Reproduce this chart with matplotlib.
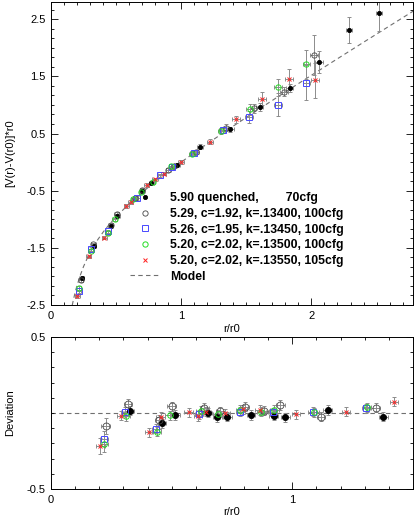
import numpy as np
import matplotlib.pyplot as plt
from matplotlib.lines import Line2D
from matplotlib.legend_handler import HandlerLine2D
from matplotlib.ticker import MultipleLocator, FixedLocator

plt.rcParams['font.family'] = ['Liberation Sans', 'DejaVu Sans']
plt.rcParams['font.size'] = 8
plt.rcParams['axes.unicode_minus'] = False

# ---- top panel: potential data ----
r_q = [0.235, 0.327, 0.458, 0.510, 0.700, 0.769, 0.967, 1.146, 1.377, 1.602, 1.833, 2.056, 2.287, 2.518]
v_q = [-2.03, -1.47, -1.11, -0.94, -0.50, -0.36, -0.05, 0.27, 0.57, 0.97, 1.29, 1.75, 2.31, 2.60]
ev_q = [0.03, 0.03, 0.03, 0.03, 0.03, 0.03, 0.03, 0.04, 0.05, 0.07, 0.07, 0.20, 0.23, 0.30]
er_q = [0.02, 0.02, 0.02, 0.02, 0.02, 0.02, 0.02, 0.025, 0.025, 0.025, 0.025, 0.03, 0.025, 0.025]

r_a = [0.228, 0.325, 0.458, 0.505, 0.646, 0.702, 0.902, 0.946, 1.115, 1.344, 1.556, 1.787, 2.018]
v_a = [-2.06, -1.44, -1.10, -0.91, -0.635, -0.49, -0.14, -0.07, 0.18, 0.60, 0.94, 1.23, 1.87]
ev_a = [0.03, 0.03, 0.03, 0.03, 0.03, 0.03, 0.03, 0.03, 0.04, 0.06, 0.08, 0.08, 0.35]
er_a = [0.02, 0.02, 0.02, 0.02, 0.02, 0.02, 0.02, 0.02, 0.025, 0.025, 0.025, 0.03, 0.03]

r_b = [0.212, 0.304, 0.441, 0.662, 0.838, 0.928, 1.095, 1.318, 1.523, 1.741, 1.962]
v_b = [-2.26, -1.52, -1.21, -0.63, -0.23, -0.09, 0.16, 0.56, 0.79, 1.00, 1.39]
ev_b = [0.03, 0.03, 0.03, 0.03, 0.03, 0.03, 0.04, 0.05, 0.10, 0.20, 0.30]
er_b = [0.02, 0.02, 0.02, 0.02, 0.02, 0.02, 0.025, 0.025, 0.03, 0.03, 0.03]

r_c = [0.212, 0.305, 0.436, 0.490, 0.633, 0.692, 0.782, 0.923, 1.082, 1.308, 1.525, 1.741, 1.962]
v_c = [-2.20, -1.55, -1.24, -1.00, -0.65, -0.53, -0.34, -0.065, 0.15, 0.54, 0.92, 1.31, 1.71]
ev_c = [0.03, 0.03, 0.03, 0.03, 0.03, 0.03, 0.03, 0.03, 0.04, 0.05, 0.10, 0.15, 0.25]
er_c = [0.02, 0.02, 0.02, 0.02, 0.02, 0.02, 0.02, 0.02, 0.025, 0.025, 0.03, 0.03, 0.03]

r_d = [0.202, 0.288, 0.410, 0.577, 0.613, 0.736, 0.798, 0.864, 0.998, 1.221, 1.421, 1.621, 1.825, 2.025]
v_d = [-2.35, -1.65, -1.32, -0.77, -0.70, -0.40, -0.30, -0.20, 0.005, 0.36, 0.75, 1.11, 1.46, 1.43]
ev_d = [0.03, 0.03, 0.03, 0.03, 0.03, 0.03, 0.03, 0.03, 0.03, 0.05, 0.06, 0.12, 0.16, 0.31]
er_d = [0.02, 0.02, 0.02, 0.02, 0.02, 0.02, 0.02, 0.02, 0.025, 0.025, 0.03, 0.03, 0.03, 0.03]

# model curve
model_r = [0.163, 0.17, 0.18, 0.19, 0.20, 0.22, 0.25, 0.28, 0.32, 0.36, 0.40, 0.45, 0.50, 0.60,
           0.70, 0.80, 0.90, 1.0, 1.2, 1.4, 1.6, 1.8, 2.0, 2.2, 2.4, 2.6, 2.78]
model_v = [-2.506, -2.430, -2.331, -2.240, -2.158, -2.011, -1.826, -1.673, -1.500, -1.354, -1.226,
           -1.083, -0.956, -0.730, -0.529, -0.343, -0.168, 0.0, 0.321, 0.630, 0.931, 1.227, 1.519,
           1.808, 2.096, 2.382, 2.638]

# ---- bottom panel: deviation from model ----
dr_q = [0.326, 0.460, 0.515, 0.650, 0.689, 0.730, 0.829, 0.923, 0.971, 1.146, 1.377]
dd_q = [0.016, -0.068, -0.013, 0.003, -0.028, -0.024, -0.013, -0.018, -0.028, 0.020, -0.024]

dr_a = [0.227, 0.319, 0.448, 0.500, 0.636, 0.702, 0.802, 0.884, 0.950, 1.119, 1.346]
dd_a = [-0.086, 0.059, -0.046, 0.043, 0.033, 0.010, 0.041, 0.015, 0.053, -0.024, 0.035]

dr_b = [0.220, 0.307, 0.436, 0.613, 0.785, 0.919, 1.084, 1.305]
dd_b = [-0.168, 0.007, -0.102, -0.009, 0.009, 0.005, 0.009, 0.031]

dr_c = [0.220, 0.310, 0.438, 0.492, 0.620, 0.691, 0.785, 0.871, 0.926, 1.091, 1.309]
dd_c = [-0.204, -0.020, -0.123, -0.016, 0.013, -0.007, 0.020, 0.009, 0.020, 0.005, 0.038]

dr_d = [0.204, 0.290, 0.406, 0.455, 0.571, 0.609, 0.643, 0.723, 0.795, 0.864, 1.015, 1.222, 1.421]
dd_d = [-0.217, -0.018, -0.127, -0.024, 0.005, -0.020, 0.009, -0.002, 0.024, 0.020, -0.007, 0.009, 0.074]

labels = ['5.90 quenched,        70cfg',
          '5.29, c=1.92, k=.13400, 100cfg',
          '5.26, c=1.95, k=.13450, 100cfg',
          '5.20, c=2.02, k=.13500, 100cfg',
          '5.20, c=2.02, k=.13550, 105cfg']

# marker styles (top panel, bottom panel uses larger sizes)
styles = [
    dict(marker='o', mfc='black', mec='black', mew=0.6, ms=3.0),
    dict(marker='o', mfc='none', mec='#444444', mew=0.6, ms=3.8),
    dict(marker='s', mfc='none', mec='#4848ff', mew=0.7, ms=3.8),
    dict(marker='o', mfc='none', mec='#22dd22', mew=0.7, ms=3.8),
    dict(marker='x', mfc='red', mec='#ff2020', mew=0.7, ms=2.6),
]
bottom_ms = [4.4, 5.0, 4.0, 4.0, 2.6]
ecol = '#8c8c8c'


class RightMarker(HandlerLine2D):
    # put the legend symbol at the right end of the sample
    def get_xdata(self, legend, xdescent, ydescent, width, height, fontsize):
        xdata = np.array([-xdescent, -xdescent + width])
        return xdata, np.array([-xdescent + width])


fig = plt.figure(figsize=(4.15, 5.18), dpi=100)
ax1 = fig.add_axes([0.1229, 0.4112, 0.8723, 0.5849])
ax2 = fig.add_axes([0.1229, 0.0560, 0.8723, 0.2934])

ax1.plot(model_r, model_v, color='#707070', lw=0.8, ls=(0, (4, 3)), zorder=1)

top = [(r_q, v_q, er_q, ev_q), (r_a, v_a, er_a, ev_a), (r_b, v_b, er_b, ev_b),
       (r_c, v_c, er_c, ev_c), (r_d, v_d, er_d, ev_d)]
for (r, v, er, ev), st in zip(top, styles):
    ax1.errorbar(r, v, xerr=er, yerr=ev, fmt='none', ecolor=ecol, elinewidth=0.7,
                 capsize=1.2, capthick=0.7, zorder=2)
    ax1.plot(r, v, ls='none', zorder=3, **st)

bottom = [(dr_q, dd_q), (dr_a, dd_a), (dr_b, dd_b), (dr_c, dd_c), (dr_d, dd_d)]
ax2.axhline(0, color='#707070', lw=0.8, ls=(0, (4, 3)), zorder=1)
for (r, d), st, ms in zip(bottom, styles, bottom_ms):
    ey = [0.05 if x < 0.25 else 0.03 for x in r]
    ax2.errorbar(r, d, xerr=0.018, yerr=ey, fmt='none', ecolor=ecol, elinewidth=0.7,
                 capsize=1.6, capthick=0.7, zorder=2)
    st2 = dict(st)
    st2['ms'] = ms
    ax2.plot(r, d, ls='none', zorder=3, **st2)

# legend
handles = [Line2D([], [], ls='none', **st) for st in styles]
handles.append(Line2D([], [], color='#707070', lw=0.8, ls=(0, (4, 3))))
hmap = {h: RightMarker(numpoints=1) for h in handles[:5]}
ax1.legend(handles, labels + ['Model'], handler_map=hmap, loc='upper left',
           bbox_to_anchor=(0.218, 0.372), frameon=False, borderpad=0, borderaxespad=0,
           handlelength=2.4, handletextpad=0.9, labelspacing=0.3,
           prop=dict(weight='bold', size=8.8))

# axes, ticks
ax1.set_xlim(0, 2.78)
ax1.set_ylim(-2.5, 2.8)
ax1.xaxis.set_major_locator(MultipleLocator(1))
ax1.xaxis.set_minor_locator(MultipleLocator(0.1))
ax1.yaxis.set_major_locator(FixedLocator([-2.5, -1.5, -0.5, 0.5, 1.5, 2.5]))
ax1.yaxis.set_minor_locator(MultipleLocator(1 / 6))
ax1.set_xlabel('r/r0')
ax1.set_ylabel('[V(r)-V(r0)]*r0')
ax1.xaxis.set_label_coords(0.5, -0.063)
ax1.yaxis.set_label_coords(-0.10, 0.5)

ax2.set_xlim(0, 1.5)
ax2.set_ylim(-0.5, 0.5)
ax2.xaxis.set_major_locator(MultipleLocator(1))
ax2.xaxis.set_minor_locator(MultipleLocator(0.1))
ax2.yaxis.set_major_locator(FixedLocator([-0.5, 0.5]))
ax2.yaxis.set_minor_locator(MultipleLocator(0.1))
ax2.set_xlabel('r/r0')
ax2.set_ylabel('Deviation')
ax2.xaxis.set_label_coords(0.5, -0.12)
ax2.yaxis.set_label_coords(-0.10, 0.5)

for ax in (ax1, ax2):
    ax.tick_params(which='both', direction='in', top=True, right=True, width=0.6,
                   labelsize=8, pad=4)
    ax.tick_params(which='major', length=5)
    ax.tick_params(which='minor', length=2.5)
    for sp in ax.spines.values():
        sp.set_linewidth(0.7)

fig.savefig('out.png', dpi=100)
